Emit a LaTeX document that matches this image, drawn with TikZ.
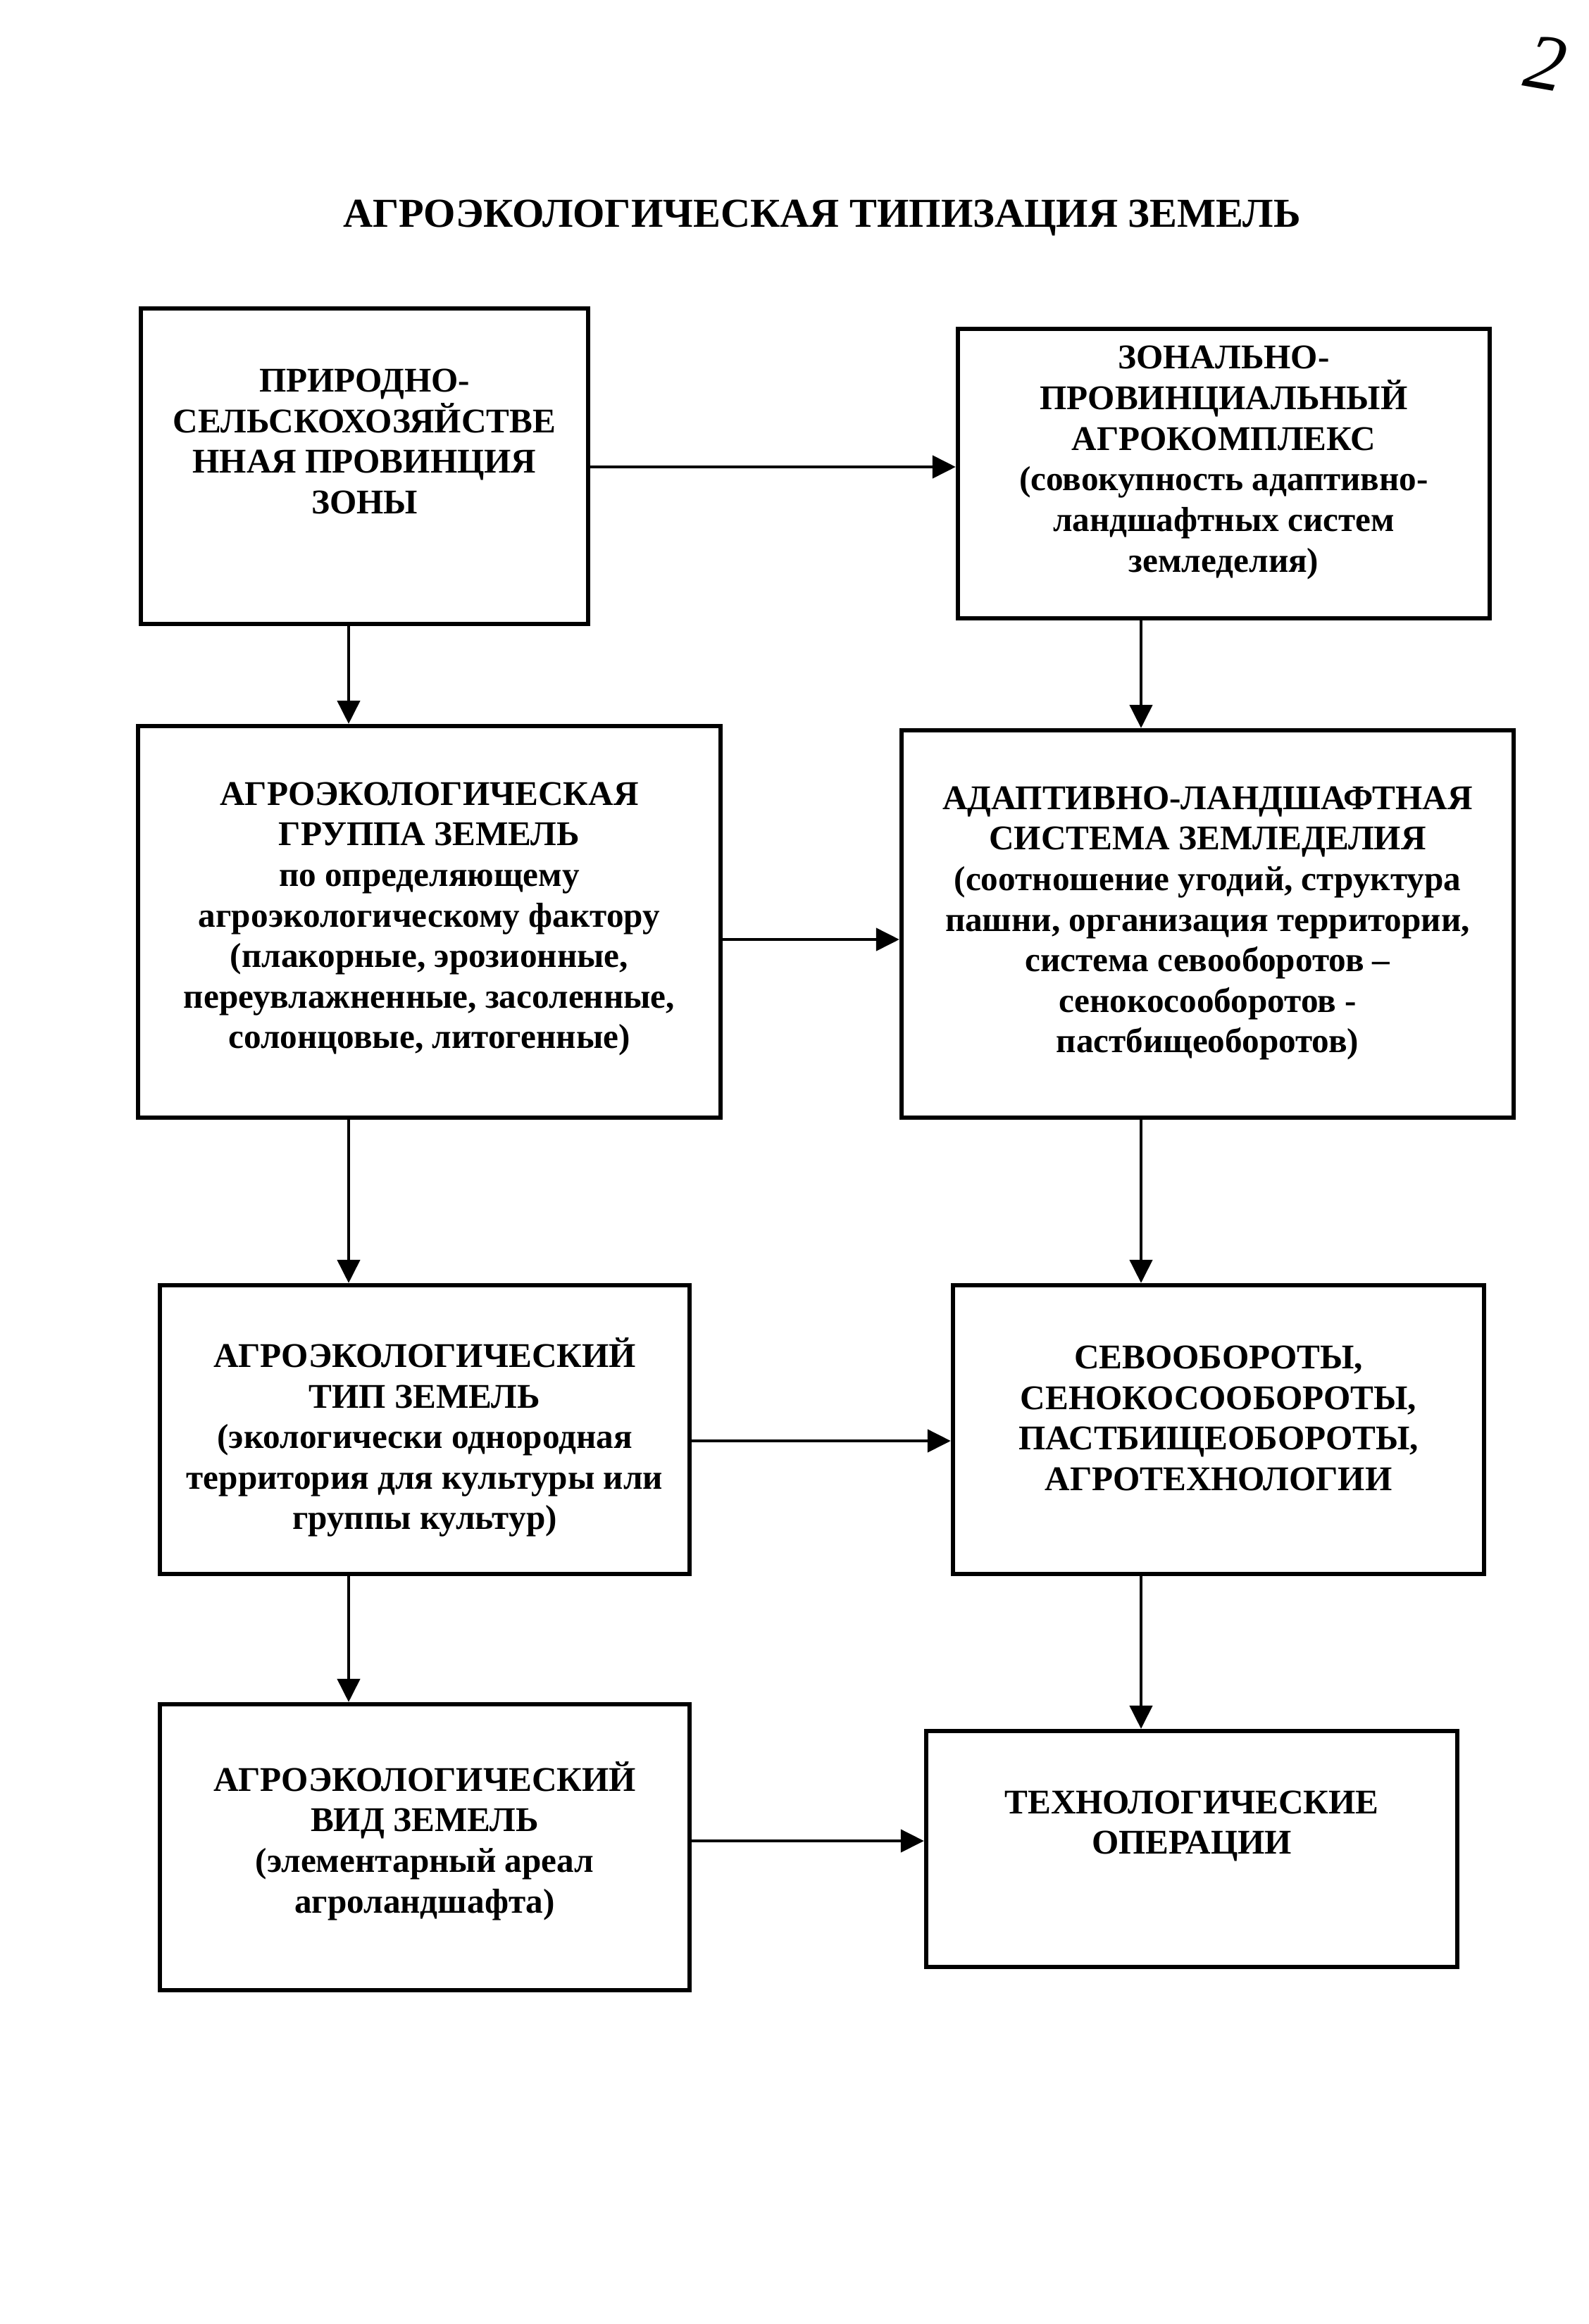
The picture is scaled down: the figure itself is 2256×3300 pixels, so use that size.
\documentclass[tikz,border=0pt]{standalone}
\usepackage{fontspec}
\setmainfont{Liberation Serif}
\usetikzlibrary{arrows.meta}
\begin{document}
\begin{tikzpicture}[x=0.1mm,y=-0.1mm,
  box/.style={draw, line width=1.8pt, inner sep=0pt},
  txt/.style={align=center, font=\fontsize{14}{16.4}\selectfont\bfseries, inner sep=0pt},
  ttl/.style={font=\fontsize{16.6}{20}\selectfont\bfseries, inner sep=0pt},
  arr/.style={line width=1.3pt, -{Triangle[length=3.3mm,width=3.2mm]}}]
\useasboundingbox (0,0) rectangle (2256,3300);
\fill[white] (0,0) rectangle (2256,3300);

\node[ttl] (title) at (1167,309) {АГРОЭКОЛОГИЧЕСКАЯ ТИПИЗАЦИЯ ЗЕМЕЛЬ};
\node[font=\fontsize{32}{36}\selectfont\itshape, rotate=-10] (pg) at (2195,90) {2};

% boxes
\node[box, minimum width=63.5mm, minimum height=44.8mm] (b1) at (517.5,662) {};
\node[box, minimum width=75.5mm, minimum height=41.1mm] (b2) at (1737.5,672.5) {};
\node[box, minimum width=82.7mm, minimum height=55.6mm] (b3) at (609.5,1309) {};
\node[box, minimum width=86.9mm, minimum height=55mm] (b4) at (1714.5,1312) {};
\node[box, minimum width=75.2mm, minimum height=41mm] (b5) at (603,2030) {};
\node[box, minimum width=75.4mm, minimum height=41mm] (b6) at (1730,2030) {};
\node[box, minimum width=75.2mm, minimum height=40.6mm] (b7) at (603,2623) {};
\node[box, minimum width=75.4mm, minimum height=33.5mm] (b8) at (1692,2625.5) {};

% texts
\node[txt] (t1) at (517.5,627) {ПРИРОДНО-\\СЕЛЬСКОХОЗЯЙСТВЕ\\ННАЯ ПРОВИНЦИЯ\\ЗОНЫ};
\node[txt] (t2) at (1737.5,657) {ЗОНАЛЬНО-\\ПРОВИНЦИАЛЬНЫЙ\\АГРОКОМПЛЕКС\\(совокупность адаптивно-\\ландшафтных систем\\земледелия)};
\node[txt] (t3) at (609.5,1305) {АГРОЭКОЛОГИЧЕСКАЯ\\ГРУППА ЗЕМЕЛЬ\\по определяющему\\агроэкологическому фактору\\(плакорные, эрозионные,\\переувлажненные, засоленные,\\солонцовые, литогенные)};
\node[txt] (t4) at (1714.5,1311) {АДАПТИВНО-ЛАНДШАФТНАЯ\\СИСТЕМА ЗЕМЛЕДЕЛИЯ\\(соотношение угодий, структура\\пашни, организация территории,\\система севооборотов –\\сенокосооборотов -\\пастбищеоборотов)};
\node[txt] (t5) at (603,2041) {АГРОЭКОЛОГИЧЕСКИЙ\\ТИП ЗЕМЕЛЬ\\(экологически однородная\\территория для культуры или\\группы культур)};
\node[txt] (t6) at (1730,2014) {СЕВООБОРОТЫ,\\СЕНОКОСООБОРОТЫ,\\ПАСТБИЩЕОБОРОТЫ,\\АГРОТЕХНОЛОГИИ};
\node[txt] (t7) at (603,2614) {АГРОЭКОЛОГИЧЕСКИЙ\\ВИД ЗЕМЕЛЬ\\(элементарный ареал\\агроландшафта)};
\node[txt] (t8) at (1692,2593) {ТЕХНОЛОГИЧЕСКИЕ\\ОПЕРАЦИИ};

% guide coordinates
\coordinate (cl) at (495,0);
\coordinate (cr) at (1620,0);
\coordinate (r1) at (0,663);
\coordinate (r2) at (0,1334);
\coordinate (r3) at (0,2046);
\coordinate (r4) at (0,2614);

% connectors
\draw[arr] (b1.east |- r1) -- (b2.west |- r1);
\draw[arr] (b3.east |- r2) -- (b4.west |- r2);
\draw[arr] (b5.east |- r3) -- (b6.west |- r3);
\draw[arr] (b7.east |- r4) -- (b8.west |- r4);
\draw[arr] (b1.south -| cl) -- (b3.north -| cl);
\draw[arr] (b3.south -| cl) -- (b5.north -| cl);
\draw[arr] (b5.south -| cl) -- (b7.north -| cl);
\draw[arr] (b2.south -| cr) -- (b4.north -| cr);
\draw[arr] (b4.south -| cr) -- (b6.north -| cr);
\draw[arr] (b6.south -| cr) -- (b8.north -| cr);
\end{tikzpicture}
\end{document}
